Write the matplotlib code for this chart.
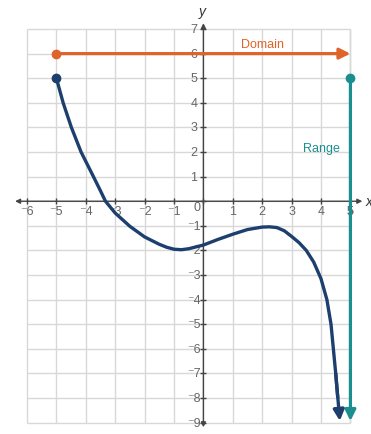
import numpy as np
import matplotlib.pyplot as plt

# values
curve_x = [-5, -4.77, -4.49, -4.16, -3.74, -3.52, -3.33, -3.0, -2.5, -2.0, -1.5, -1.25, -1.0,
           -0.75, -0.5, 0.0, 0.5, 1.0, 1.5, 2.0, 2.25, 2.5, 2.75, 3.0, 3.25, 3.5, 3.75,
           4.0, 4.2, 4.34, 4.42, 4.5, 4.57, 4.64]
curve_y = [5, 4, 3, 2, 1, 0.47, 0, -0.48, -1.02, -1.45, -1.75, -1.87, -1.95,
           -1.97, -1.93, -1.78, -1.55, -1.34, -1.15, -1.05, -1.04, -1.07, -1.2, -1.43, -1.68, -2.0, -2.47,
           -3.15, -4, -5, -6, -7, -8, -8.93]
domain_start = (-5, 6)
domain_end = (5, 6)
range_top = (5, 5)
range_bottom = (5, -8.93)
x_ticks = list(range(-6, 6))
y_ticks = list(range(-9, 8))

navy = '#1d3f6e'
orange = '#e0642a'
teal = '#1b8f8f'
gray = '#666666'
fam = ['Liberation Sans', 'DejaVu Sans']


def lab(v):
    return ('\u207b' + str(-v)) if v < 0 else str(v)


fig = plt.figure(figsize=(3.71, 4.35), dpi=100)
ax = fig.add_axes([0, 0, 1, 1])
ax.set_xlim(-6.918, 5.70)
ax.set_ylim(-9.46, 8.22)
ax.axis('off')

# grid
ax.vlines(x_ticks, y_ticks[0], y_ticks[-1], color='#d8d8d8', lw=1, zorder=1)
ax.vlines([5], y_ticks[0], y_ticks[-1], color='#d8d8d8', lw=1, zorder=1)
ax.hlines(y_ticks, x_ticks[0], 5, color='#d8d8d8', lw=1, zorder=1)

# axes with arrows
ax.annotate('', xy=(5.5, 0), xytext=(-6.5, 0),
            arrowprops=dict(arrowstyle='<|-|>', color='#444444', lw=1, mutation_scale=7), zorder=2)
ax.annotate('', xy=(0, 7.35), xytext=(0, -9.3),
            arrowprops=dict(arrowstyle='<|-|>', color='#444444', lw=1, mutation_scale=7), zorder=2)
ax.plot(x_ticks + [5], [0] * (len(x_ticks) + 1), ls='none', marker='|', ms=5, color='#444444', mew=1, zorder=2)
ax.plot([0] * len(y_ticks), y_ticks, ls='none', marker='_', ms=5, color='#444444', mew=1, zorder=2)

for v in x_ticks + [5]:
    if v == 0:
        continue
    ax.text(v, -0.38, lab(v), ha='center', va='center', fontsize=9, color=gray, family=fam)
for v in y_ticks:
    if v == 0:
        continue
    ax.text(-0.33, v, lab(v), ha='center', va='center', fontsize=9, color=gray, family=fam)
ax.text(-0.22, -0.22, '0', ha='center', va='center', fontsize=9, color=gray, family=fam)
ax.text(-0.05, 7.72, 'y', ha='center', va='center', fontsize=10, style='italic', color='#333333', family=fam)
ax.text(5.62, 0.0, 'x', ha='center', va='center', fontsize=10, style='italic', color='#333333', family=fam)

# curve
ax.plot(curve_x[:-1], curve_y[:-1], color=navy, lw=2.4, solid_capstyle='butt',
        solid_joinstyle='round', zorder=4)
ax.annotate('', xy=(curve_x[-1], curve_y[-1]), xytext=(curve_x[-3], curve_y[-3]),
            arrowprops=dict(arrowstyle='-|>', color=navy, lw=2.4, mutation_scale=16,
                            shrinkA=0, shrinkB=0), zorder=4)
ax.plot([curve_x[0]], [curve_y[0]], 'o', color=navy, ms=6, zorder=5)

# domain
ax.annotate('', xy=domain_end, xytext=domain_start,
            arrowprops=dict(arrowstyle='-|>', color=orange, lw=2.3, mutation_scale=16,
                            shrinkA=0, shrinkB=0), zorder=3)
ax.plot([domain_start[0]], [domain_start[1]], 'o', color=orange, ms=6, zorder=5)
ax.text(2.0, 6.38, 'Domain', ha='center', va='center', fontsize=9, color=orange, family=fam)

# range
ax.annotate('', xy=range_bottom, xytext=range_top,
            arrowprops=dict(arrowstyle='-|>', color=teal, lw=2.3, mutation_scale=16,
                            shrinkA=0, shrinkB=0), zorder=3)
ax.plot([range_top[0]], [range_top[1]], 'o', color=teal, ms=6, zorder=5)
ax.text(4.0, 2.15, 'Range', ha='center', va='center', fontsize=9, color=teal, family=fam)

fig.savefig('out.png', dpi=100)
